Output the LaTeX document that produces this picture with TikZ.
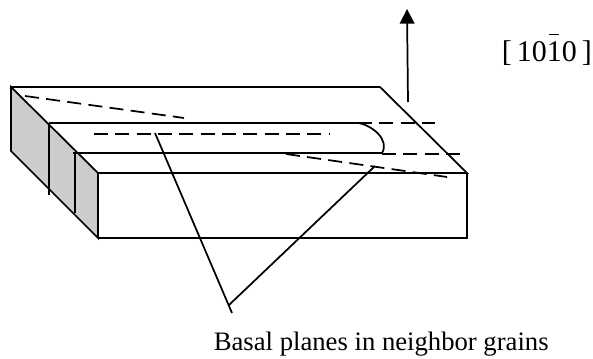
\documentclass[tikz,border=0pt]{standalone}
\usepackage{fontspec}
\setmainfont{Liberation Serif}
\usetikzlibrary{arrows.meta}
\tikzset{every picture/.style={line width=1.3pt}}
\tikzset{dashline/.style={dash pattern=on 10.5pt off 5.5pt}}
\definecolor{facegray}{rgb}{0.8,0.8,0.8}

\begin{document}
\begin{tikzpicture}[x=0.75pt,y=0.75pt,yscale=-1,xscale=1]
\useasboundingbox (0,0) rectangle (593,359);

%Shaded faces
\draw [fill=facegray] (11,87) -- (98,173) -- (98,238) -- (11,151) -- cycle ;
%Block outline
\draw (11,87) -- (380,87) -- (467,173) -- (98,173) ;
\draw (467,173) -- (467,238) -- (98,238) ;
%Steps
\draw (49,123) -- (358,123) ;
\draw (73,153) -- (382,153) ;
\draw (49,123) -- (49,195) ;
\draw (75,153) -- (75,213) ;
%Curve Lines
\draw (358,123) .. controls (372,125) and (390,140) .. (382,153) ;

%Dashed lines
\draw [dashline] (25,96) -- (184,118) ;
\draw [dashline] (94,134) -- (330,134) ;
\draw [dashline] (286,154) -- (447,177) ;
\draw [dashline] (358,123) -- (435,123) ;
\draw [dashline] (382,154) -- (461,154) ;

%Arrow
\coordinate (arrowstart) at (408,102) ;
\coordinate (arrowend) at (407,9) ;
\draw [-{Triangle[length=11pt,width=11pt]}] (arrowstart) -- (arrowend) ;

%Leader lines
\coordinate (apex) at (229,305) ;
\coordinate (leaderend) at (232,313) ;
\coordinate (planeleft) at (155,133) ;
\coordinate (planeright) at (375,166) ;
\draw (planeleft) -- (leaderend) ;
\draw (apex) -- (planeright) ;

% Text Node
\draw (501,62) node [anchor=base west][inner sep=0pt] (direction) {\fontsize{22.5}{26}\selectfont [\,101\hspace{-9.4pt}\rule[20pt]{7.5pt}{0.8pt}\hspace{1.9pt}0\,]};
% Text Node
\draw (213,351) node [anchor=base west][inner sep=0pt] (caption) {\fontsize{20}{24}\selectfont Basal planes in neighbor grains};

\end{tikzpicture}
\end{document}
